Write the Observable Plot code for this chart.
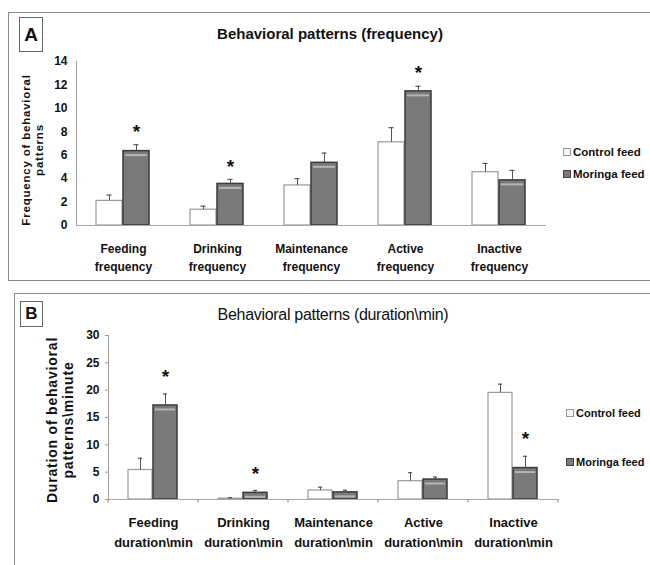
<!DOCTYPE html>
<html><head><meta charset="utf-8">
<script src="https://cdn.jsdelivr.net/npm/d3@7"></script>
<script src="https://cdn.jsdelivr.net/npm/@observablehq/plot@0.6"></script>
<style>
body{margin:0;background:#fff;}
#root{position:relative;width:650px;height:565px;overflow:hidden;font-family:"Liberation Sans",Arial,sans-serif;color:#111;}
.panel{position:absolute;border:1.5px solid #8a8a8a;box-sizing:border-box;background:#fff;}
.tag{position:absolute;border:1.5px solid #666;box-sizing:border-box;font-weight:bold;display:flex;align-items:center;justify-content:center;}
.plot{position:absolute;left:0;}
.title{position:absolute;transform:translate(-50%,-50%);white-space:nowrap;}
.ylab{position:absolute;transform:translate(-50%,-50%) rotate(-90deg);white-space:nowrap;text-align:center;font-weight:bold;}
.leg{position:absolute;font-weight:bold;white-space:nowrap;display:flex;align-items:center;transform:translateY(-50%);}
.sw{display:inline-block;width:6px;height:6px;border:1px solid #999;margin-right:2px;}
</style></head>
<body><div id="root"></div>
<script>
// ---- data ----
const series = ["Control feed", "Moringa feed"];

const freqCategories = ["Feeding frequency", "Drinking frequency", "Maintenance frequency", "Active frequency", "Inactive frequency"];
const freqControl    = [2.1, 1.35, 3.42, 7.1, 4.55];
const freqControlErr = [2.6, 1.65, 4.0, 8.35, 5.3];
const freqMoringa    = [6.35, 3.55, 5.35, 11.45, 3.85];
const freqMoringaErr = [6.9, 3.93, 6.18, 11.88, 4.7];
const freqSignificant = [true, true, false, true, false];
const freqTicks = [0, 2, 4, 6, 8, 10, 12, 14];

const durCategories = ["Feeding duration\\min", "Drinking duration\\min", "Maintenance duration\\min", "Active duration\\min", "Inactive duration\\min"];
const durControl    = [5.4, 0.15, 1.65, 3.35, 19.5];
const durControlErr = [7.55, 0.35, 2.25, 4.9, 21.1];
const durMoringa    = [17.2, 1.22, 1.3, 3.65, 5.75];
const durMoringaErr = [19.3, 1.65, 1.7, 4.1, 7.9];
const durSignificant = [true, true, false, false, true];
const durTicks = [0, 5, 10, 15, 20, 25, 30];

const root = document.getElementById("root");
function el(cls, css, html) {
  const d = document.createElement("div");
  d.className = cls; d.style.cssText = css; if (html != null) d.innerHTML = html;
  root.appendChild(d); return d;
}

function rowsOf(cats, ctrl, ctrlErr, mor, morErr, sig) {
  const rows = [];
  cats.forEach((c, i) => {
    rows.push({cat: c, series: series[0], value: ctrl[i], err: ctrlErr[i], sig: false});
    rows.push({cat: c, series: series[1], value: mor[i], err: morErr[i], sig: sig[i]});
  });
  return rows;
}

function chart(o) {
  const rows = rowsOf(o.cats, o.ctrl, o.ctrlErr, o.mor, o.morErr, o.sig);
  const ctrlRows = rows.filter(d => d.series === series[0]);
  const morRows = rows.filter(d => d.series === series[1]);
  const marks = [
    Plot.barY(ctrlRows, {fx: "cat", x: "series", y: "value", fill: "#ffffff", stroke: "#9a9a9a", strokeWidth: 1.2}),
    Plot.barY(morRows, {fx: "cat", x: "series", y: "value", fill: "#7a7a7a", stroke: "#3a3a3a", strokeWidth: 1.5}),
    Plot.tickY(morRows, {fx: "cat", x: "series", y: "value", dy: 4, stroke: "#b5b5b5", strokeWidth: 2, inset: 2}),
    Plot.ruleX(rows, {fx: "cat", x: "series", y1: "value", y2: "err", stroke: "#555", strokeWidth: 1}),
    Plot.tickY(rows, {fx: "cat", x: "series", y: "err", stroke: "#555", strokeWidth: 1.2, inset: o.capInset}),
    Plot.text(rows.filter(d => d.sig), {fx: "cat", x: "series", y: "err", text: () => "*", dy: o.starDy, fontSize: 19, fontWeight: "bold", fill: "#111"}),
    Plot.ruleY([0], {stroke: "#a8a8a8", strokeWidth: 1.2}),
    Plot.frame({anchor: "left", facet: "super", stroke: "#a8a8a8", strokeWidth: 1.2}),
    Plot.axisY({ticks: o.ticks, tickSize: o.yTickSize, tickPadding: o.yTickPadding, stroke: "#9a9a9a", fontSize: 12, fontWeight: "bold", label: null, fill: "#111"}),
    Plot.axisFx({anchor: "bottom", tickSize: 0, tickPadding: o.xTickPadding, fontSize: o.xFont, fontWeight: "bold", lineHeight: o.lineHeight, label: null, fill: "#111", tickFormat: d => d.replace(" ", "\n")})
  ];
  if (o.groupTicks) {
    marks.push(Plot.ruleX(o.cats, {fx: d => d, x: () => series[0], dx: o.groupTickDx, y1: 0, y2: o.groupTickLen, stroke: "#9a9a9a", strokeWidth: 1.2}));
    marks.push(Plot.ruleX(o.cats.slice(-1), {fx: d => d, x: () => series[1], dx: -o.groupTickDx, y1: 0, y2: o.groupTickLen, stroke: "#9a9a9a", strokeWidth: 1.2}));
  }
  return Plot.plot({
    width: 650, height: o.height,
    marginTop: o.marginTop, marginBottom: o.marginBottom, marginLeft: o.marginLeft, marginRight: o.marginRight,
    style: {fontFamily: "'Liberation Sans', Arial, sans-serif", background: "transparent", overflow: "visible"},
    fx: {domain: o.cats, paddingInner: 0, paddingOuter: 0, axis: null},
    x: {domain: series, paddingInner: o.pi, paddingOuter: o.po, axis: null},
    y: {domain: [0, o.yMax], axis: null},
    marks
  });
}

// ---- panel A ----
el("panel", "left:8px;top:12px;width:660px;height:269px;");
el("tag", "left:19px;top:17px;width:24px;height:35px;font-size:19px;", "A");
el("title", "left:330px;top:33px;font-weight:bold;font-size:15px;", "Behavioral patterns (frequency)");
const a = chart({
  cats: freqCategories, ctrl: freqControl, ctrlErr: freqControlErr, mor: freqMoringa, morErr: freqMoringaErr, sig: freqSignificant,
  ticks: freqTicks, yMax: 14, height: 280, marginTop: 61, marginBottom: 55, marginLeft: 74, marginRight: 103,
  pi: 0.03, po: 0.73, capInset: 10.5, starDy: -13, yTickSize: 0, yTickPadding: 9, xTickPadding: 14, xFont: 12, lineHeight: 1.55,
  groupTicks: false
});
a.classList.add("plot"); a.style.top = "0px"; root.appendChild(a);
el("ylab", "left:32px;top:150px;font-size:11.5px;line-height:12.5px;letter-spacing:0.8px;", "Frequency of behavioral<br>patterns");
el("leg", "left:563px;top:152px;font-size:11.5px;", '<span class="sw" style="background:#f4f4f4"></span>Control feed');
el("leg", "left:563px;top:174px;font-size:11.5px;", '<span class="sw" style="background:#7a7a7a;border-color:#444"></span>Moringa feed');

// ---- panel B ----
el("panel", "left:14px;top:293px;width:660px;height:300px;");
el("tag", "left:20px;top:301px;width:23px;height:26px;font-size:17px;", "B");
el("title", "left:333px;top:315px;font-size:16px;letter-spacing:-0.3px;", "Behavioral patterns (duration\\min)");
const b = chart({
  cats: durCategories, ctrl: durControl, ctrlErr: durControlErr, mor: durMoringa, morErr: durMoringaErr, sig: durSignificant,
  ticks: durTicks, yMax: 30, height: 285, marginTop: 55, marginBottom: 66, marginLeft: 106, marginRight: 90,
  pi: 0.03, po: 0.76, capInset: 10, starDy: -17, yTickSize: 3, yTickPadding: 6, xTickPadding: 14, xFont: 13, lineHeight: 1.5,
  groupTicks: true, groupTickDx: -32.5, groupTickLen: -0.7
});
b.classList.add("plot"); b.style.top = "280px"; root.appendChild(b);
el("ylab", "left:60px;top:420px;font-size:14px;line-height:16px;letter-spacing:0.8px;", "Duration of behavioral<br>patterns\\minute");
el("leg", "left:566px;top:413px;font-size:11px;", '<span class="sw" style="background:#f4f4f4"></span>Control feed');
el("leg", "left:566px;top:462px;font-size:11px;", '<span class="sw" style="background:#7a7a7a;border-color:#444"></span>Moringa feed');
</script></body></html>
